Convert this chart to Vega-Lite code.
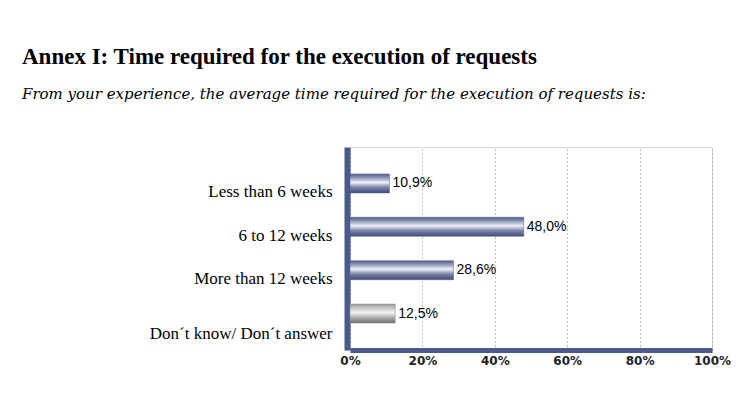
{
  "$schema": "https://vega.github.io/schema/vega-lite/v6.json",
  "width": 362,
  "height": 203,
  "autosize": {"type": "none"},
  "padding": {"left": 350, "top": 147, "right": 38, "bottom": 58},
  "background": "white",
  "title": {
    "text": "Annex I:  Time required for the execution of requests",
    "subtitle": "From your experience, the average time required for the execution of requests is:",
    "anchor": "start",
    "frame": "group",
    "dx": -328,
    "offset": 45,
    "font": "Liberation Serif",
    "fontSize": 23,
    "fontWeight": "bold",
    "color": "#000000",
    "subtitleFont": "DejaVu Serif",
    "subtitleFontSize": 15,
    "subtitleFontStyle": "italic",
    "subtitleColor": "#000000",
    "subtitlePadding": 18
  },
  "data": {
    "values": [
      {"category": "Less than 6 weeks", "value": 0.109, "label": "10,9%", "group": "answer"},
      {"category": "6 to 12 weeks", "value": 0.48, "label": "48,0%", "group": "answer"},
      {"category": "More than 12 weeks", "value": 0.286, "label": "28,6%", "group": "answer"},
      {"category": "Don´t know/ Don´t answer", "value": 0.125, "label": "12,5%", "group": "none"}
    ]
  },
  "encoding": {
    "y": {
      "field": "category",
      "type": "nominal",
      "sort": null,
      "scale": {"paddingInner": 0.56, "paddingOuter": 0.62},
      "axis": {
        "title": null,
        "ticks": false,
        "grid": false,
        "offset": 3,
        "domainColor": "#4a5a8a",
        "domainWidth": 6,
        "labelFont": "Liberation Serif",
        "labelFontSize": 17,
        "labelColor": "#000000",
        "labelPadding": 15,
        "labelLimit": 400,
        "labelOffset": {"expr": "datum.value == 'Don´t know/ Don´t answer' ? 20 : 9"}
      }
    },
    "x": {
      "field": "value",
      "type": "quantitative",
      "scale": {"domain": [0, 1], "nice": false},
      "axis": {
        "title": null,
        "format": ".0%",
        "values": [0, 0.2, 0.4, 0.6, 0.8, 1],
        "ticks": false,
        "grid": true,
        "gridColor": "#6f82b4",
        "gridDash": [1, 3],
        "gridWidth": 1,
        "domainColor": "#4a5a8a",
        "domainWidth": 5,
        "labelFont": "DejaVu Sans",
        "labelFontSize": 12,
        "labelFontWeight": "bold",
        "labelColor": "#222222",
        "labelPadding": 5,
        "labelFlush": false
      }
    }
  },
  "layer": [
    {
      "transform": [{"filter": "datum.group == 'answer'"}],
      "mark": {
        "type": "bar",
        "stroke": "#56638f",
        "strokeWidth": 0.5,
        "color": {
          "gradient": "linear",
          "x1": 0, "y1": 0, "x2": 0, "y2": 1,
          "stops": [
            {"offset": 0, "color": "#4e5a86"},
            {"offset": 0.2, "color": "#8e97b8"},
            {"offset": 0.45, "color": "#eef0f6"},
            {"offset": 0.7, "color": "#7c86aa"},
            {"offset": 1, "color": "#3f4a78"}
          ]
        }
      }
    },
    {
      "transform": [{"filter": "datum.group == 'none'"}],
      "mark": {
        "type": "bar",
        "stroke": "#8a8a8a",
        "strokeWidth": 0.5,
        "color": {
          "gradient": "linear",
          "x1": 0, "y1": 0, "x2": 0, "y2": 1,
          "stops": [
            {"offset": 0, "color": "#9a9a9a"},
            {"offset": 0.2, "color": "#c4c4c4"},
            {"offset": 0.45, "color": "#f4f4f4"},
            {"offset": 0.7, "color": "#b0b0b0"},
            {"offset": 1, "color": "#6e6e6e"}
          ]
        }
      }
    },
    {
      "mark": {
        "type": "text",
        "align": "left",
        "baseline": "middle",
        "dx": 3,
        "font": "Liberation Sans",
        "fontSize": 14,
        "color": "#000000"
      },
      "encoding": {"text": {"field": "label"}}
    }
  ]
}
